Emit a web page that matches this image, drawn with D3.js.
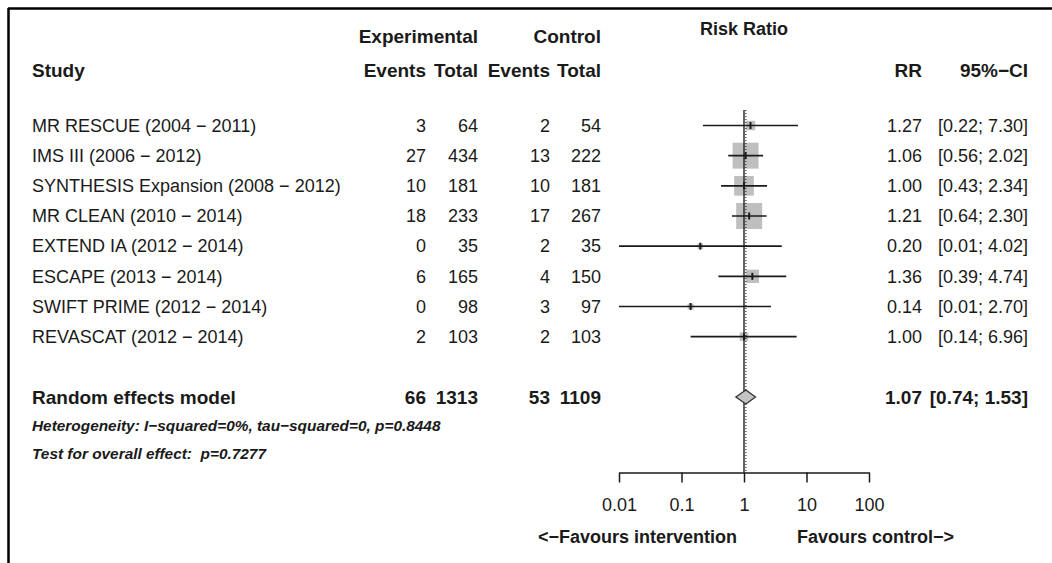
<!DOCTYPE html>
<html>
<head>
<meta charset="utf-8">
<script src="https://cdn.jsdelivr.net/npm/d3@7"></script>
<style>
  html, body { margin: 0; padding: 0; background: #fff; }
  svg { display: block; }
  text { font-family: "Liberation Sans", Arial, Helvetica, sans-serif; fill: #1a1a1a; white-space: pre; }
</style>
</head>
<body>
<svg id="chart" width="1052" height="563"></svg>
<script>
// ---------------- data ----------------
const studies = [
  "MR RESCUE (2004 \u2212 2011)",
  "IMS III (2006 \u2212 2012)",
  "SYNTHESIS Expansion (2008 \u2212 2012)",
  "MR CLEAN (2010 \u2212 2014)",
  "EXTEND IA (2012 \u2212 2014)",
  "ESCAPE (2013 \u2212 2014)",
  "SWIFT PRIME (2012 \u2212 2014)",
  "REVASCAT (2012 \u2212 2014)"
];
const expEvents = [3, 27, 10, 18, 0, 6, 0, 2];
const expTotal  = [64, 434, 181, 233, 35, 165, 98, 103];
const ctlEvents = [2, 13, 10, 17, 2, 4, 3, 2];
const ctlTotal  = [54, 222, 181, 267, 35, 150, 97, 103];
const rr    = [1.27, 1.06, 1.00, 1.21, 0.20, 1.36, 0.14, 1.00];
const lower = [0.22, 0.56, 0.43, 0.64, 0.01, 0.39, 0.01, 0.14];
const upper = [7.30, 2.02, 2.34, 2.30, 4.02, 4.74, 2.70, 6.96];

const pooledLabel = "Random effects model";
const pooledExp = [66, 1313];
const pooledCtl = [53, 1109];
const pooledRR = 1.07;
const pooledCI = [0.74, 1.53];
const hetText = "Heterogeneity: I\u2212squared=0%, tau\u2212squared=0, p=0.8448";
const testText = "Test for overall effect:  p=0.7277";

const axisTicks = [0.01, 0.1, 1, 10, 100];
const axisTickLabels = ["0.01", "0.1", "1", "10", "100"];
const favourLeft = "<\u2212Favours intervention";
const favourRight = "Favours control\u2212>";

// ---------------- layout ----------------
const svg = d3.select("#chart");
const FS = 18;    // regular text
const FSB = 19;   // bold headings / pooled row
const FSH = 15.4; // heterogeneity lines

const x = d3.scaleLog().domain([0.01, 100]).range([619, 869]);
const y = d3.scaleLinear().domain([0, 9]).range([125.5, 397]);
const axisY = 472.5;

const fmt2 = d3.format(".2f");

// frame lines (top and left)
svg.append("line").attr("x1", 8).attr("x2", 1052).attr("y1", 8.5).attr("y2", 8.5)
  .attr("stroke", "#000").attr("stroke-width", 2.5);
svg.append("line").attr("x1", 8.5).attr("x2", 8.5).attr("y1", 8).attr("y2", 563)
  .attr("stroke", "#000").attr("stroke-width", 2.5);

const cols = { name: 32, expEv: 426, expTot: 478, ctlEv: 550, ctlTot: 601, rr: 922, ci: 1028 };

function txt(s, xx, yy, anchor, opts = {}) {
  return svg.append("text")
    .attr("x", xx).attr("y", yy)
    .attr("dy", "0.35em")
    .attr("text-anchor", anchor)
    .attr("font-size", opts.size || (opts.bold ? FSB : FS))
    .attr("font-weight", opts.bold ? "bold" : "normal")
    .attr("font-style", opts.italic ? "italic" : "normal")
    .text(s);
}

// headers
txt("Experimental", cols.expTot, 36, "end", { bold: true });
txt("Control", cols.ctlTot, 36, "end", { bold: true });
txt("Risk Ratio", x(1), 29, "middle", { bold: true, size: 18 });
txt("Study", cols.name, 70, "start", { bold: true });
txt("Events", cols.expEv, 70, "end", { bold: true });
txt("Total", cols.expTot, 70, "end", { bold: true });
txt("Events", cols.ctlEv, 70, "end", { bold: true });
txt("Total", cols.ctlTot, 70, "end", { bold: true });
txt("RR", cols.rr, 70, "end", { bold: true });
txt("95%\u2212CI", cols.ci, 70, "end", { bold: true });

// study rows text
studies.forEach((s, i) => {
  const yy = y(i);
  txt(s, cols.name, yy, "start");
  txt(expEvents[i], cols.expEv, yy, "end");
  txt(expTotal[i], cols.expTot, yy, "end");
  txt(ctlEvents[i], cols.ctlEv, yy, "end");
  txt(ctlTotal[i], cols.ctlTot, yy, "end");
  txt(fmt2(rr[i]), cols.rr, yy, "end");
  txt("[" + fmt2(lower[i]) + "; " + fmt2(upper[i]) + "]", cols.ci, yy, "end");
});

// pooled row
const yP = y(9);
txt(pooledLabel, cols.name, yP, "start", { bold: true });
txt(pooledExp[0], cols.expEv, yP, "end", { bold: true });
txt(pooledExp[1], cols.expTot, yP, "end", { bold: true });
txt(pooledCtl[0], cols.ctlEv, yP, "end", { bold: true });
txt(pooledCtl[1], cols.ctlTot, yP, "end", { bold: true });
txt(fmt2(pooledRR), cols.rr, yP, "end", { bold: true });
txt("[" + fmt2(pooledCI[0]) + "; " + fmt2(pooledCI[1]) + "]", cols.ci, yP, "end", { bold: true });

txt(hetText, cols.name, 426, "start", { bold: true, italic: true, size: FSH });
txt(testText, cols.name, 454, "start", { bold: true, italic: true, size: FSH });

// inverse-variance weights derived from CIs -> box size
const weights = rr.map((_, i) => {
  const se = (Math.log(upper[i]) - Math.log(lower[i])) / (2 * 1.959964);
  return 1 / (se * se);
});
const boxSize = d3.scaleSqrt().domain([0, d3.max(weights)]).range([0, 26]);

const plot = svg.append("g");

// boxes
plot.selectAll("rect.box").data(rr).join("rect")
  .attr("class", "box")
  .attr("x", (d, i) => x(d) - boxSize(weights[i]) / 2)
  .attr("y", (d, i) => y(i) - boxSize(weights[i]) / 2)
  .attr("width", (d, i) => boxSize(weights[i]))
  .attr("height", (d, i) => boxSize(weights[i]))
  .attr("fill", "#bfbfbf");

// reference line at 1 (solid) and random-effects line (dotted)
plot.append("line")
  .attr("x1", x(1)).attr("x2", x(1)).attr("y1", 110).attr("y2", axisY)
  .attr("stroke", "#222").attr("stroke-width", 1.4);
plot.append("line")
  .attr("x1", x(pooledRR)).attr("x2", x(pooledRR)).attr("y1", 110).attr("y2", axisY)
  .attr("stroke", "#333").attr("stroke-width", 1.2).attr("stroke-dasharray", "1,2");

// CI lines
plot.selectAll("line.ci").data(rr).join("line")
  .attr("class", "ci")
  .attr("x1", (d, i) => x(lower[i])).attr("x2", (d, i) => x(upper[i]))
  .attr("y1", (d, i) => y(i)).attr("y2", (d, i) => y(i))
  .attr("stroke", "#1a1a1a").attr("stroke-width", 1.6);

// point estimate ticks
plot.selectAll("line.pt").data(rr).join("line")
  .attr("class", "pt")
  .attr("x1", d => x(d)).attr("x2", d => x(d))
  .attr("y1", (d, i) => y(i) - 3.5).attr("y2", (d, i) => y(i) + 3.5)
  .attr("stroke", "#1a1a1a").attr("stroke-width", 2);

// diamond
const dm = [
  [x(pooledCI[0]), yP], [x(pooledRR), yP - 7], [x(pooledCI[1]), yP], [x(pooledRR), yP + 7]
];
plot.append("path")
  .attr("d", d3.line()(dm) + "Z")
  .attr("fill", "#c4c4c4").attr("stroke", "#333").attr("stroke-width", 1.3);

// axis
const axis = d3.axisBottom(x)
  .tickValues(axisTicks)
  .tickFormat((d, i) => axisTickLabels[i])
  .tickSize(10).tickSizeOuter(0).tickPadding(16);
const ag = svg.append("g").attr("transform", `translate(0,${axisY})`).call(axis);
ag.select(".domain").attr("stroke", "#1a1a1a").attr("stroke-width", 1.5);
ag.selectAll(".tick line").attr("stroke", "#1a1a1a").attr("stroke-width", 1.5);
ag.selectAll(".tick text")
  .attr("font-family", "'Liberation Sans', Arial, sans-serif")
  .attr("font-size", FS).attr("fill", "#1a1a1a");

txt(favourLeft, 737, 537, "end", { bold: true, size: 18 });
txt(favourRight, 797, 537, "start", { bold: true, size: 18 });
</script>
</body>
</html>
